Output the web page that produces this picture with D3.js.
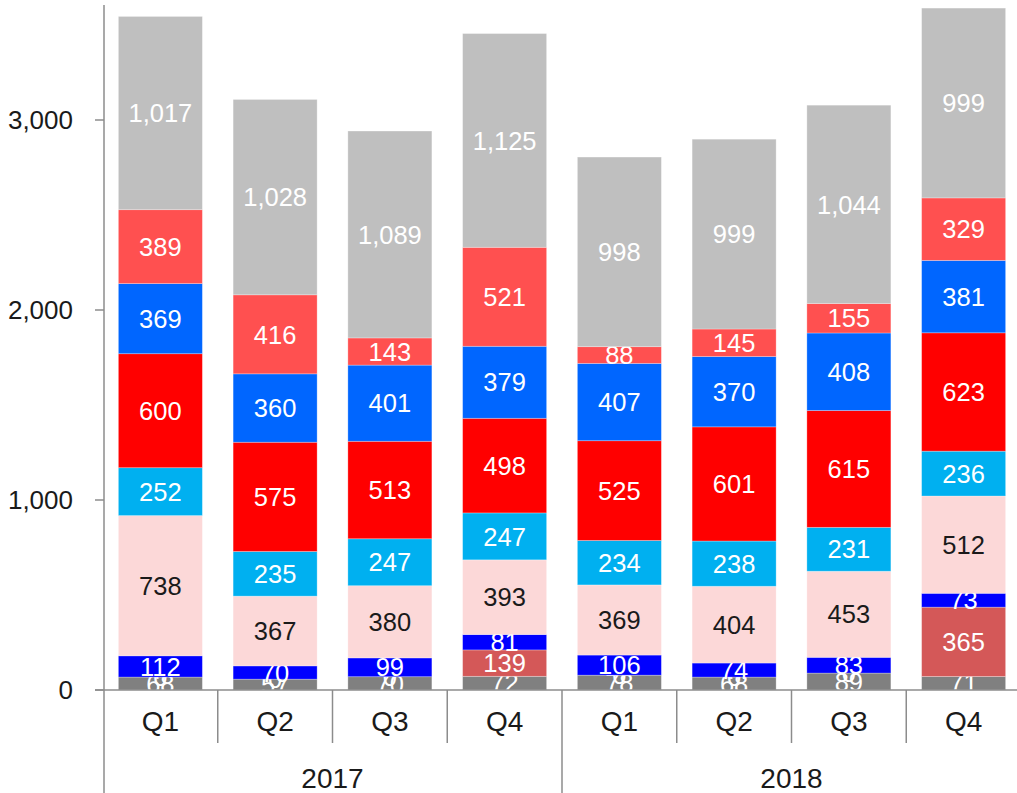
<!DOCTYPE html>
<html>
<head>
<meta charset="utf-8">
<script src="https://cdn.jsdelivr.net/npm/d3@7"></script>
<style>
  body { margin: 0; background: #fff; }
  svg text { font-family: "Liberation Sans", Arial, sans-serif; }
</style>
</head>
<body>
<div id="plot"></div>
<script>
// quarters and years along the bottom
const quarters = ["Q1", "Q2", "Q3", "Q4", "Q1", "Q2", "Q3", "Q4"];
const years = ["2017", "2018"];
const yTicks = [0, 1000, 2000, 3000];

// series, bottom to top
const seriesGray = [68, 57, 70, 72, 78, 68, 89, 71];
const seriesBrick = [0, 0, 0, 139, 0, 0, 0, 365];
const seriesBlue = [112, 70, 99, 81, 106, 74, 83, 73];
const seriesPink = [738, 367, 380, 393, 369, 404, 453, 512];
const seriesCyan = [252, 235, 247, 247, 234, 238, 231, 236];
const seriesRed = [600, 575, 513, 498, 525, 601, 615, 623];
const seriesAzure = [369, 360, 401, 379, 407, 370, 408, 381];
const seriesSalmon = [389, 416, 143, 521, 88, 145, 155, 329];
const seriesSilver = [1017, 1028, 1089, 1125, 998, 999, 1044, 999];

const series = [
  { values: seriesGray, fill: "#808080", text: "#fff" },
  { values: seriesBrick, fill: "#d45858", text: "#fff" },
  { values: seriesBlue, fill: "#0000ff", text: "#fff" },
  { values: seriesPink, fill: "#fcd8d8", text: "#1a1a1a" },
  { values: seriesCyan, fill: "#00b0f0", text: "#fff" },
  { values: seriesRed, fill: "#ff0000", text: "#fff" },
  { values: seriesAzure, fill: "#0066ff", text: "#fff" },
  { values: seriesSalmon, fill: "#ff5050", text: "#fff" },
  { values: seriesSilver, fill: "#bfbfbf", text: "#fff" }
];

const W = 1017, H = 793;
const y0 = 690;
const idx = quarters.map((q, i) => i);

const x = d3.scaleBand().domain(idx).range([103, 1021]).paddingInner(0.268).paddingOuter(0.134);
const y = d3.scaleLinear().domain([0, 3600]).range([y0, 6]);

const svg = d3.select("#plot").append("svg")
    .attr("width", W)
    .attr("height", H);

// stack the series
const table = idx.map(i => {
  const row = { i };
  series.forEach((s, k) => row["s" + k] = s.values[i]);
  return row;
});
const stacked = d3.stack().keys(series.map((s, k) => "s" + k))(table);

const layers = svg.selectAll(".layer")
    .data(stacked)
  .enter().append("g")
    .attr("class", "layer");

layers.selectAll("rect")
    .data(d => d)
  .enter().append("rect")
    .attr("x", d => x(d.data.i))
    .attr("y", d => y(d[1]))
    .attr("width", x.bandwidth())
    .attr("height", d => y(d[0]) - y(d[1]))
    .attr("fill", function() { return series[d3.select(this.parentNode).datum().index].fill; })
    .attr("stroke", "#ffffff")
    .attr("stroke-opacity", 0.35)
    .attr("stroke-width", 0.8);

layers.selectAll("text")
    .data(d => d)
  .enter().append("text")
    .attr("x", d => x(d.data.i) + x.bandwidth() / 2)
    .attr("y", d => (y(d[0]) + y(d[1])) / 2)
    .attr("dy", "0.36em")
    .attr("text-anchor", "middle")
    .attr("font-size", "25.5px")
    .attr("fill", function() { return series[d3.select(this.parentNode).datum().index].text; })
    .text(d => d3.format(",")(d[1] - d[0]));

// y axis
const axisColor = "#8c8c8c";
svg.append("line")
    .attr("x1", 104).attr("x2", 104)
    .attr("y1", 5).attr("y2", H)
    .attr("stroke", axisColor).attr("stroke-width", 1.5);

svg.selectAll(".ytick")
    .data(yTicks)
  .enter().append("line")
    .attr("x1", 95).attr("x2", 104)
    .attr("y1", d => y(d)).attr("y2", d => y(d))
    .attr("stroke", axisColor).attr("stroke-width", 1.5);

svg.selectAll(".ylabel")
    .data(yTicks)
  .enter().append("text")
    .attr("x", 73)
    .attr("y", d => y(d))
    .attr("dy", "0.36em")
    .attr("text-anchor", "end")
    .attr("font-size", "26px")
    .attr("fill", "#1a1a1a")
    .text(d => d3.format(",")(d));

// x axis with quarter and year separators
svg.append("line")
    .attr("x1", 95).attr("x2", W)
    .attr("y1", y0).attr("y2", y0)
    .attr("stroke", axisColor).attr("stroke-width", 1.5);

const step = x.step();
const left = x.range()[0];
svg.selectAll(".qsep")
    .data(d3.range(1, quarters.length))
  .enter().append("line")
    .attr("x1", d => left + d * step).attr("x2", d => left + d * step)
    .attr("y1", y0).attr("y2", d => d === 4 ? H : 743)
    .attr("stroke", axisColor).attr("stroke-width", 1.5);

svg.selectAll(".qlabel")
    .data(idx)
  .enter().append("text")
    .attr("x", i => x(i) + x.bandwidth() / 2)
    .attr("y", 721)
    .attr("dy", "0.36em")
    .attr("text-anchor", "middle")
    .attr("font-size", "28px")
    .attr("fill", "#1a1a1a")
    .text(i => quarters[i]);

svg.selectAll(".yearlabel")
    .data(years)
  .enter().append("text")
    .attr("x", (d, k) => left + (k * 4 + 2) * step)
    .attr("y", 778)
    .attr("dy", "0.36em")
    .attr("text-anchor", "middle")
    .attr("font-size", "28px")
    .attr("fill", "#1a1a1a")
    .text(d => d);
</script>
</body>
</html>
